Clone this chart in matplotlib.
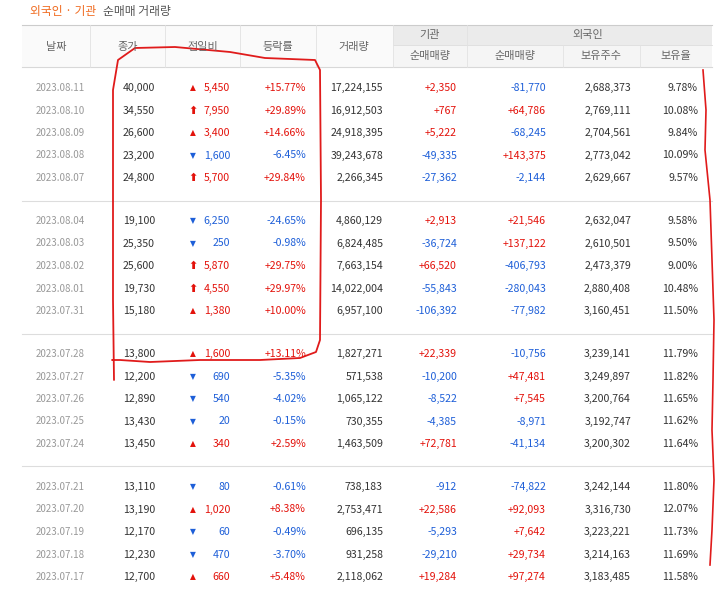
import matplotlib
matplotlib.use("Agg")
import matplotlib.pyplot as plt
from matplotlib.patches import Rectangle
import numpy as np

plt.rcParams['font.family'] = ['Noto Sans CJK KR', 'DejaVu Sans']

dates = ["2023.08.11","2023.08.10","2023.08.09","2023.08.08","2023.08.07",
         "2023.08.04","2023.08.03","2023.08.02","2023.08.01","2023.07.31",
         "2023.07.28","2023.07.27","2023.07.26","2023.07.25","2023.07.24",
         "2023.07.21","2023.07.20","2023.07.19","2023.07.18","2023.07.17"]
close = ["40,000","34,550","26,600","23,200","24,800",
         "19,100","25,350","25,600","19,730","15,180",
         "13,800","12,200","12,890","13,430","13,450",
         "13,110","13,190","12,170","12,230","12,700"]
change = ["5,450","7,950","3,400","1,600","5,700",
          "6,250","250","5,870","4,550","1,380",
          "1,600","690","540","20","340",
          "80","1,020","60","470","660"]
# 1 = up, 2 = upper limit, -1 = down
direction = [1,2,1,-1,2, -1,-1,2,2,1, 1,-1,-1,-1,1, -1,1,-1,-1,1]
rate = ["+15.77%","+29.89%","+14.66%","-6.45%","+29.84%",
        "-24.65%","-0.98%","+29.75%","+29.97%","+10.00%",
        "+13.11%","-5.35%","-4.02%","-0.15%","+2.59%",
        "-0.61%","+8.38%","-0.49%","-3.70%","+5.48%"]
volume = ["17,224,155","16,912,503","24,918,395","39,243,678","2,266,345",
          "4,860,129","6,824,485","7,663,154","14,022,004","6,957,100",
          "1,827,271","571,538","1,065,122","730,355","1,463,509",
          "738,183","2,753,471","696,135","931,258","2,118,062"]
inst = ["+2,350","+767","+5,222","-49,335","-27,362",
        "+2,913","-36,724","+66,520","-55,843","-106,392",
        "+22,339","-10,200","-8,522","-4,385","+72,781",
        "-912","+22,586","-5,293","-29,210","+19,284"]
foreign = ["-81,770","+64,786","-68,245","+143,375","-2,144",
           "+21,546","+137,122","-406,793","-280,043","-77,982",
           "-10,756","+47,481","+7,545","-8,971","-41,134",
           "-74,822","+92,093","+7,642","+29,734","+97,274"]
holdings = ["2,688,373","2,769,111","2,704,561","2,773,042","2,629,667",
            "2,632,047","2,610,501","2,473,379","2,880,408","3,160,451",
            "3,239,141","3,249,897","3,200,764","3,192,747","3,200,302",
            "3,242,144","3,316,730","3,223,221","3,214,163","3,183,485"]
ratio = ["9.78%","10.08%","9.84%","10.09%","9.57%",
         "9.58%","9.50%","9.00%","10.48%","11.50%",
         "11.79%","11.82%","11.65%","11.62%","11.64%",
         "11.80%","12.07%","11.73%","11.69%","11.58%"]

RED = "#e3120b"
BLUE = "#1e5fd8"
GRAY = "#999999"
DARK = "#333333"
HDR = "#666666"

fig = plt.figure(figsize=(7.23, 5.89), dpi=100)
ax = fig.add_axes([0, 0, 1, 1])
ax.set_xlim(0, 723)
ax.set_ylim(589, 0)
ax.axis("off")

def col(s):
    if s.startswith("+"):
        return RED
    if s.startswith("-"):
        return BLUE
    return DARK

fs = 7.6
# title
ax.text(30, 11, "외국인 · 기관", color="#f06a1e", fontsize=8.5, va="center")
ax.text(103, 11, "순매매 거래량", color="#555555", fontsize=8.5, va="center")

# header
L, R = 22, 712
ax.add_patch(Rectangle((L, 25), R - L, 42, color="#fafafa", lw=0))
ax.add_patch(Rectangle((393, 25), R - 393, 20, color="#ebebeb", lw=0))
ax.add_patch(Rectangle((393, 45), R - 393, 22, color="#f5f5f5", lw=0))
ax.plot([L, R], [25, 25], color="#cccccc", lw=0.8)
ax.plot([L, R], [67, 67], color="#d8d8d8", lw=0.8)
ax.plot([393, R], [45, 45], color="#dddddd", lw=0.6)
for x in [90, 165, 240, 316, 393]:
    ax.plot([x, x], [25, 67], color="#e2e2e2", lw=0.6)
for x in [467, 563, 640]:
    ax.plot([x, x], [45, 67], color="#e2e2e2", lw=0.6)
ax.plot([467, 467], [25, 45], color="#e2e2e2", lw=0.6)
for x, t in [(56, "날짜"), (128, "종가"), (203, "전일비"), (278, "등락률"), (354, "거래량")]:
    ax.text(x, 47, t, color=HDR, fontsize=8, ha="center", va="center")
ax.text(430, 35, "기관", color=HDR, fontsize=8, ha="center", va="center")
ax.text(588, 35, "외국인", color=HDR, fontsize=8, ha="center", va="center")
for x, t in [(430, "순매매량"), (515, "순매매량"), (601, "보유주수"), (676, "보유율")]:
    ax.text(x, 56, t, color=HDR, fontsize=8, ha="center", va="center")

ys = []
for g in range(4):
    base = 88 + g * 133
    for i in range(5):
        ys.append(base + i * 22.5)
for sep in [201, 334, 466]:
    ax.plot([L, R], [sep, sep], color="#dddddd", lw=0.8)

for i, y in enumerate(ys):
    ax.text(36, y, dates[i], color=GRAY, fontsize=7, va="center")
    ax.text(155, y, close[i], color=DARK, fontsize=fs, ha="right", va="center")
    d = direction[i]
    c = RED if d > 0 else BLUE
    sym = {1: "▲", 2: "⬆", -1: "▼"}[d]
    ax.text(193, y, sym, color=c, fontsize=5.5 if d != 2 else 8, ha="center", va="center",
            family=["DejaVu Sans"], fontweight="bold" if d == 2 else "normal")
    ax.text(230, y, change[i], color=c, fontsize=fs, ha="right", va="center")
    ax.text(306, y, rate[i], color=col(rate[i]), fontsize=fs, ha="right", va="center")
    ax.text(383, y, volume[i], color=DARK, fontsize=fs, ha="right", va="center")
    ax.text(457, y, inst[i], color=col(inst[i]), fontsize=fs, ha="right", va="center")
    ax.text(546, y, foreign[i], color=col(foreign[i]), fontsize=fs, ha="right", va="center")
    ax.text(631, y, holdings[i], color=DARK, fontsize=fs, ha="right", va="center")
    ax.text(698, y, ratio[i], color=DARK, fontsize=fs, ha="right", va="center")

# hand-drawn red annotations
bx = [114, 113, 113, 118, 135, 175, 230, 265, 315, 320, 321, 320, 316, 300, 260, 200, 150, 120, 112]
by = [380, 300, 90, 60, 48, 47, 52, 58, 60, 70, 200, 340, 352, 358, 360, 360, 362, 360, 360]
ax.plot(bx, by, color="#e01b1b", lw=1.3, solid_capstyle="round")
rx = [703, 706, 705, 710, 712, 714, 713, 712, 714, 712, 710]
ry = [70, 110, 150, 200, 260, 320, 380, 430, 480, 530, 565]
ax.plot(rx, ry, color="#e01b1b", lw=1.2)

fig.savefig("out.png", dpi=100)
